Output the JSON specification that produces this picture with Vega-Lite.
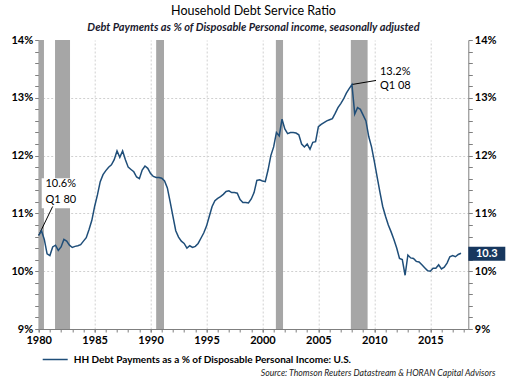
{
  "$schema": "https://vega.github.io/schema/vega-lite/v6.json",
  "width": 429.6,
  "height": 289,
  "autosize": {"type": "none"},
  "padding": {"left": 38.7, "top": 40, "right": 37.7, "bottom": 51},
  "background": "white",
  "title": {
    "text": "Household Debt Service Ratio",
    "subtitle": "Debt Payments as % of Disposable Personal income, seasonally adjusted",
    "anchor": "middle",
    "font": "Lato",
    "fontSize": 12.5,
    "fontWeight": "normal",
    "color": "#000000",
    "subtitleFont": "Lato",
    "subtitleFontSize": 11,
    "subtitleFontStyle": "italic",
    "subtitleFontWeight": "bold",
    "subtitleColor": "#1a1a2e",
    "subtitlePadding": 4.5,
    "offset": 1
  },
  "config": {"view": {"stroke": null}, "font": "Lato", "axis": {"labelOverlap": false}},
  "datasets": {
    "rec": [
      {"s": 1980.0, "e": 1980.47},
      {"s": 1981.46, "e": 1982.8},
      {"s": 1990.5, "e": 1991.2},
      {"s": 2001.2, "e": 2001.84},
      {"s": 2007.9, "e": 2009.4}
    ],
    "box": [
      {"x1": 1980.27, "x2": 1983.09, "y1": 11.09, "y2": 11.61}
    ],
    "leaders": [
      {"x1": 1980.0, "y1": 10.62, "x2": 1981.25, "y2": 11.12},
      {"x1": 2008.0, "y1": 13.23, "x2": 2010.15, "y2": 13.3}
    ],
    "notes": [
      {"t": 1980.6, "v": 11.46, "label": "10.6%"},
      {"t": 1980.6, "v": 11.18, "label": "Q1 80"},
      {"t": 2010.5, "v": 13.39, "label": "13.2%"},
      {"t": 2010.5, "v": 13.15, "label": "Q1 08"}
    ],
    "last": [
      {"t": 2018.4, "v": 10.3, "label": "10.3"}
    ],
    "dsr": [
      {"t": 1980.00, "v": 10.62}, {"t": 1980.25, "v": 10.70}, {"t": 1980.50, "v": 10.55}, {"t": 1980.75, "v": 10.30},
      {"t": 1981.00, "v": 10.27}, {"t": 1981.25, "v": 10.42}, {"t": 1981.50, "v": 10.45}, {"t": 1981.75, "v": 10.36},
      {"t": 1982.00, "v": 10.42}, {"t": 1982.25, "v": 10.55}, {"t": 1982.50, "v": 10.52}, {"t": 1982.75, "v": 10.45},
      {"t": 1983.00, "v": 10.41}, {"t": 1983.25, "v": 10.43}, {"t": 1983.50, "v": 10.44}, {"t": 1983.75, "v": 10.46},
      {"t": 1984.00, "v": 10.52}, {"t": 1984.25, "v": 10.58}, {"t": 1984.50, "v": 10.72}, {"t": 1984.75, "v": 10.88},
      {"t": 1985.00, "v": 11.12}, {"t": 1985.25, "v": 11.32}, {"t": 1985.50, "v": 11.55}, {"t": 1985.75, "v": 11.67},
      {"t": 1986.00, "v": 11.74}, {"t": 1986.25, "v": 11.80}, {"t": 1986.50, "v": 11.84}, {"t": 1986.75, "v": 11.93},
      {"t": 1987.00, "v": 12.08}, {"t": 1987.25, "v": 11.97}, {"t": 1987.50, "v": 12.08}, {"t": 1987.75, "v": 11.93},
      {"t": 1988.00, "v": 11.80}, {"t": 1988.25, "v": 11.76}, {"t": 1988.50, "v": 11.72}, {"t": 1988.75, "v": 11.63},
      {"t": 1989.00, "v": 11.60}, {"t": 1989.25, "v": 11.75}, {"t": 1989.50, "v": 11.82}, {"t": 1989.75, "v": 11.78},
      {"t": 1990.00, "v": 11.69}, {"t": 1990.25, "v": 11.64}, {"t": 1990.50, "v": 11.62}, {"t": 1990.75, "v": 11.62},
      {"t": 1991.00, "v": 11.61}, {"t": 1991.25, "v": 11.56}, {"t": 1991.50, "v": 11.44}, {"t": 1991.75, "v": 11.20},
      {"t": 1992.00, "v": 10.95}, {"t": 1992.25, "v": 10.70}, {"t": 1992.50, "v": 10.59}, {"t": 1992.75, "v": 10.52},
      {"t": 1993.00, "v": 10.48}, {"t": 1993.25, "v": 10.40}, {"t": 1993.50, "v": 10.44}, {"t": 1993.75, "v": 10.41},
      {"t": 1994.00, "v": 10.43}, {"t": 1994.25, "v": 10.48}, {"t": 1994.50, "v": 10.57}, {"t": 1994.75, "v": 10.66},
      {"t": 1995.00, "v": 10.78}, {"t": 1995.25, "v": 10.95}, {"t": 1995.50, "v": 11.12}, {"t": 1995.75, "v": 11.22},
      {"t": 1996.00, "v": 11.26}, {"t": 1996.25, "v": 11.29}, {"t": 1996.50, "v": 11.33}, {"t": 1996.75, "v": 11.38},
      {"t": 1997.00, "v": 11.39}, {"t": 1997.25, "v": 11.36}, {"t": 1997.50, "v": 11.36}, {"t": 1997.75, "v": 11.35},
      {"t": 1998.00, "v": 11.24}, {"t": 1998.25, "v": 11.19}, {"t": 1998.50, "v": 11.19}, {"t": 1998.75, "v": 11.18},
      {"t": 1999.00, "v": 11.25}, {"t": 1999.25, "v": 11.36}, {"t": 1999.50, "v": 11.57}, {"t": 1999.75, "v": 11.58},
      {"t": 2000.00, "v": 11.56}, {"t": 2000.25, "v": 11.55}, {"t": 2000.50, "v": 11.75}, {"t": 2000.75, "v": 12.00},
      {"t": 2001.00, "v": 12.15}, {"t": 2001.25, "v": 12.40}, {"t": 2001.50, "v": 12.34}, {"t": 2001.75, "v": 12.63},
      {"t": 2002.00, "v": 12.46}, {"t": 2002.25, "v": 12.38}, {"t": 2002.50, "v": 12.40}, {"t": 2002.75, "v": 12.40},
      {"t": 2003.00, "v": 12.39}, {"t": 2003.25, "v": 12.36}, {"t": 2003.50, "v": 12.20}, {"t": 2003.75, "v": 12.15},
      {"t": 2004.00, "v": 12.20}, {"t": 2004.25, "v": 12.11}, {"t": 2004.50, "v": 12.23}, {"t": 2004.75, "v": 12.24},
      {"t": 2005.00, "v": 12.50}, {"t": 2005.25, "v": 12.54}, {"t": 2005.50, "v": 12.57}, {"t": 2005.75, "v": 12.60},
      {"t": 2006.00, "v": 12.62}, {"t": 2006.25, "v": 12.64}, {"t": 2006.50, "v": 12.73}, {"t": 2006.75, "v": 12.83},
      {"t": 2007.00, "v": 12.90}, {"t": 2007.25, "v": 12.98}, {"t": 2007.50, "v": 13.08}, {"t": 2007.75, "v": 13.16},
      {"t": 2008.00, "v": 13.23}, {"t": 2008.25, "v": 12.72}, {"t": 2008.50, "v": 12.83}, {"t": 2008.75, "v": 12.80},
      {"t": 2009.00, "v": 12.70}, {"t": 2009.25, "v": 12.60}, {"t": 2009.50, "v": 12.33}, {"t": 2009.75, "v": 12.15},
      {"t": 2010.00, "v": 11.90}, {"t": 2010.25, "v": 11.63}, {"t": 2010.50, "v": 11.37}, {"t": 2010.75, "v": 11.12},
      {"t": 2011.00, "v": 10.95}, {"t": 2011.25, "v": 10.80}, {"t": 2011.50, "v": 10.68}, {"t": 2011.75, "v": 10.55},
      {"t": 2012.00, "v": 10.40}, {"t": 2012.25, "v": 10.22}, {"t": 2012.50, "v": 10.20}, {"t": 2012.75, "v": 9.93},
      {"t": 2013.00, "v": 10.28}, {"t": 2013.25, "v": 10.23}, {"t": 2013.50, "v": 10.22}, {"t": 2013.75, "v": 10.17},
      {"t": 2014.00, "v": 10.16}, {"t": 2014.25, "v": 10.11}, {"t": 2014.50, "v": 10.06}, {"t": 2014.75, "v": 10.01},
      {"t": 2015.00, "v": 10.00}, {"t": 2015.25, "v": 10.05}, {"t": 2015.50, "v": 10.05}, {"t": 2015.75, "v": 10.11},
      {"t": 2016.00, "v": 10.04}, {"t": 2016.25, "v": 10.07}, {"t": 2016.50, "v": 10.14}, {"t": 2016.75, "v": 10.25},
      {"t": 2017.00, "v": 10.27}, {"t": 2017.25, "v": 10.25}, {"t": 2017.50, "v": 10.29}, {"t": 2017.75, "v": 10.31}
    ]
  },
  "layer": [
    {
      "data": {"name": "dsr"},
      "mark": {"type": "line", "opacity": 0},
      "encoding": {
        "x": {
          "field": "t", "type": "quantitative",
          "scale": {"domain": [1980, 2018.4], "nice": false, "zero": false},
          "axis": {
            "orient": "bottom",
            "values": [1980,1981,1982,1983,1984,1985,1986,1987,1988,1989,1990,1991,1992,1993,1994,1995,1996,1997,1998,1999,2000,2001,2002,2003,2004,2005,2006,2007,2008,2009,2010,2011,2012,2013,2014,2015,2016,2017,2018],
            "labels": false,
            "grid": false,
            "domain": false,
            "tickSize": 3,
            "tickColor": "#7f7f7f",
            "title": null
          }
        },
        "y": {"field": "v", "type": "quantitative", "scale": {"domain": [9, 14], "nice": false, "zero": false}, "axis": null}
      }
    },
    {
      "data": {"name": "rec"},
      "mark": {"type": "rect", "color": "#a6a6a6"},
      "encoding": {
        "x": {
          "field": "s", "type": "quantitative",
          "scale": {"domain": [1980, 2018.4], "nice": false, "zero": false},
          "axis": {
            "orient": "bottom",
            "values": [1980, 1985, 1990, 1995, 2000, 2005, 2010, 2015],
            "format": "d",
            "labelOverlap": false,
            "labelFlush": false,
            "labelFont": "Lato",
            "labelFontSize": 11,
            "labelFontWeight": "bold",
            "labelColor": "#000000",
            "labelPadding": 2,
            "tickSize": 3,
            "tickColor": "#7f7f7f",
            "domainColor": "#7f7f7f",
            "grid": true,
            "gridDash": [2, 2],
            "gridColor": "#d0d0d0",
            "gridOpacity": {"condition": {"test": "datum.value == 1980", "value": 0}, "value": 1},
            "title": "Source: Thomson Reuters Datastream & HORAN Capital Advisors",
            "titleFont": "Lato",
            "titleFontSize": 8.7,
            "titleFontStyle": "italic",
            "titleFontWeight": "normal",
            "titleColor": "#222222",
            "titleAlign": "right",
            "titleBaseline": "alphabetic",
            "titleX": 456.3,
            "titleY": 46
          }
        },
        "x2": {"field": "e"}
      }
    },
    {
      "data": {"name": "box"},
      "mark": {"type": "rect", "color": "white"},
      "encoding": {
        "x": {"field": "x1", "type": "quantitative", "scale": {"domain": [1980, 2018.4], "nice": false, "zero": false}, "axis": null},
        "x2": {"field": "x2"},
        "y": {"field": "y1", "type": "quantitative", "scale": {"domain": [9, 14], "nice": false, "zero": false}, "axis": null},
        "y2": {"field": "y2"}
      }
    },
    {
      "data": {"name": "leaders"},
      "mark": {"type": "rule", "color": "#000000", "strokeWidth": 1},
      "encoding": {
        "x": {"field": "x1", "type": "quantitative", "scale": {"domain": [1980, 2018.4], "nice": false, "zero": false}, "axis": null},
        "x2": {"field": "x2"},
        "y": {"field": "y1", "type": "quantitative", "scale": {"domain": [9, 14], "nice": false, "zero": false}, "axis": null},
        "y2": {"field": "y2"}
      }
    },
    {
      "data": {"name": "notes"},
      "mark": {"type": "text", "align": "left", "baseline": "alphabetic", "font": "Lato", "fontSize": 11, "color": "#000000"},
      "encoding": {
        "x": {"field": "t", "type": "quantitative", "scale": {"domain": [1980, 2018.4], "nice": false, "zero": false}, "axis": null},
        "y": {"field": "v", "type": "quantitative", "scale": {"domain": [9, 14], "nice": false, "zero": false}, "axis": null},
        "text": {"field": "label"}
      }
    },
    {
      "data": {"name": "dsr"},
      "mark": {"type": "line", "strokeWidth": 1.5},
      "encoding": {
        "x": {"field": "t", "type": "quantitative", "scale": {"domain": [1980, 2018.4], "nice": false, "zero": false}, "axis": null},
        "y": {
          "field": "v", "type": "quantitative",
          "scale": {"domain": [9, 14], "nice": false, "zero": false},
          "axis": {
            "orient": "left",
            "values": [9,9.2,9.4,9.6,9.8,10,10.2,10.4,10.6,10.8,11,11.2,11.4,11.6,11.8,12,12.2,12.4,12.6,12.8,13,13.2,13.4,13.6,13.8,14],
            "labelExpr": "datum.value % 1 == 0 ? datum.value + '%' : ''",
            "labelOverlap": false,
            "labelFont": "Lato",
            "labelFontSize": 11,
            "labelFontWeight": "bold",
            "labelColor": "#000000",
            "labelPadding": 2,
            "tickSize": 4,
            "tickColor": "#7f7f7f",
            "domainColor": "#7f7f7f",
            "grid": true,
            "gridDash": [2, 2],
            "gridColor": "#d0d0d0",
            "gridOpacity": {"condition": {"test": "datum.value % 1 != 0 || datum.value == 9 || datum.value == 14", "value": 0}, "value": 1},
            "title": null
          }
        },
        "color": {
          "datum": "HH Debt Payments as a % of Disposable Personal Income: U.S.",
          "scale": {"range": ["#1f4e79"]},
          "legend": {
            "orient": "none",
            "legendX": 3,
            "legendY": 306,
            "title": null,
            "symbolType": "stroke",
            "symbolSize": 625,
            "symbolStrokeWidth": 1.5,
            "symbolStrokeColor": "#5a7aa8",
            "labelFont": "Lato",
            "labelFontSize": 10,
            "labelFontWeight": "bold",
            "labelColor": "#000000",
            "labelOffset": 5,
            "labelLimit": 400,
            "padding": 0
          }
        }
      }
    },
    {
      "data": {"name": "dsr"},
      "mark": {"type": "line", "opacity": 0},
      "encoding": {
        "x": {"field": "t", "type": "quantitative", "scale": {"domain": [1980, 2018.4], "nice": false, "zero": false}, "axis": null},
        "y": {
          "field": "v", "type": "quantitative",
          "scale": {"domain": [9, 14], "nice": false, "zero": false},
          "axis": {
            "orient": "right",
            "values": [9,9.2,9.4,9.6,9.8,10,10.2,10.4,10.6,10.8,11,11.2,11.4,11.6,11.8,12,12.2,12.4,12.6,12.8,13,13.2,13.4,13.6,13.8,14],
            "labelExpr": "datum.value % 1 == 0 ? datum.value + '%' : ''",
            "labelOverlap": false,
            "labelFont": "Lato",
            "labelFontSize": 11,
            "labelFontWeight": "bold",
            "labelColor": "#000000",
            "labelPadding": 2,
            "tickSize": 4,
            "tickColor": "#7f7f7f",
            "domainColor": "#7f7f7f",
            "grid": false,
            "title": null
          }
        }
      }
    },
    {
      "data": {"name": "last"},
      "mark": {"type": "rect", "color": "#17375e", "xOffset": 0, "x2Offset": 37, "yOffset": -7, "y2Offset": 7},
      "encoding": {
        "x": {"field": "t", "type": "quantitative", "scale": {"domain": [1980, 2018.4], "nice": false, "zero": false}, "axis": null},
        "x2": {"field": "t"},
        "y": {"field": "v", "type": "quantitative", "scale": {"domain": [9, 14], "nice": false, "zero": false}, "axis": null},
        "y2": {"field": "v"}
      }
    },
    {
      "data": {"name": "last"},
      "mark": {"type": "text", "color": "white", "font": "Lato", "fontSize": 11, "fontWeight": "bold", "align": "center", "baseline": "middle", "dx": 18.5},
      "encoding": {
        "x": {"field": "t", "type": "quantitative", "scale": {"domain": [1980, 2018.4], "nice": false, "zero": false}, "axis": null},
        "y": {"field": "v", "type": "quantitative", "scale": {"domain": [9, 14], "nice": false, "zero": false}, "axis": null},
        "text": {"field": "label"}
      }
    }
  ],
  "resolve": {"scale": {"y": "independent", "x": "independent"}}
}
